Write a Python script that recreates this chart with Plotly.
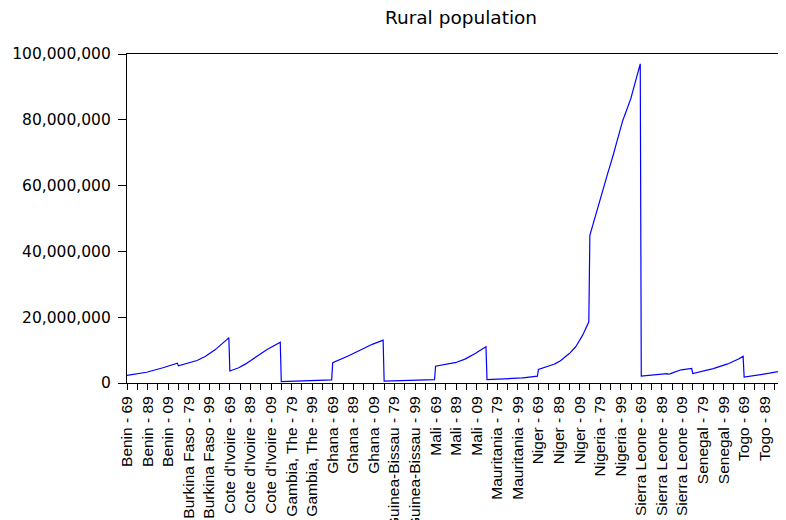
import plotly.graph_objects as go

# ---- data (millions of people), 1969-2018, one list per country in plot order ----
SCALE = 1_000_000

countries = ["Benin", "Burkina Faso", "Cote d'Ivoire", "Gambia, The", "Ghana",
             "Guinea-Bissau", "Mali", "Mauritania", "Niger", "Nigeria",
             "Sierra Leone", "Senegal", "Togo"]

benin = [2.30, 2.34, 2.38, 2.42, 2.46, 2.50, 2.54, 2.58, 2.62, 2.67,
         2.72, 2.77, 2.83, 2.89, 2.95, 3.01, 3.07, 3.13, 3.20, 3.27,
         3.34, 3.41, 3.49, 3.57, 3.65, 3.74, 3.83, 3.92, 4.01, 4.10,
         4.19, 4.28, 4.37, 4.46, 4.55, 4.65, 4.75, 4.85, 4.95, 5.05,
         5.15, 5.25, 5.35, 5.45, 5.55, 5.65, 5.74, 5.83, 5.92, 6.00]
burkina = [5.20, 5.28, 5.36, 5.44, 5.52, 5.60, 5.68, 5.76, 5.84, 5.93,
           6.02, 6.11, 6.20, 6.30, 6.40, 6.51, 6.62, 6.73, 6.85, 6.97,
           7.10, 7.24, 7.39, 7.55, 7.72, 7.90, 8.08, 8.27, 8.46, 8.66,
           8.86, 9.07, 9.29, 9.51, 9.74, 9.97, 10.21, 10.45, 10.70, 10.95,
           11.21, 11.47, 11.73, 12.00, 12.27, 12.54, 12.85, 13.17, 13.49, 13.80]
cote_divoire = [3.65, 3.74, 3.84, 3.95, 4.06, 4.18, 4.30, 4.43, 4.56, 4.70,
                4.84, 5.00, 5.17, 5.35, 5.54, 5.74, 5.95, 6.16, 6.38, 6.61,
                6.84, 7.07, 7.30, 7.53, 7.76, 7.99, 8.22, 8.45, 8.68, 8.91,
                9.13, 9.33, 9.52, 9.70, 9.87, 10.03, 10.19, 10.35, 10.51, 10.68,
                10.86, 11.05, 11.24, 11.43, 11.62, 11.81, 11.98, 12.14, 12.28, 12.40]
gambia = [0.40, 0.41, 0.42, 0.43, 0.44, 0.45, 0.46, 0.47, 0.48, 0.49,
          0.50, 0.51, 0.52, 0.53, 0.54, 0.55, 0.56, 0.57, 0.58, 0.59,
          0.61, 0.62, 0.63, 0.64, 0.65, 0.66, 0.67, 0.68, 0.69, 0.70,
          0.71, 0.72, 0.73, 0.74, 0.75, 0.76, 0.77, 0.78, 0.79, 0.80,
          0.81, 0.82, 0.83, 0.84, 0.85, 0.86, 0.88, 0.90, 0.92, 0.94]
ghana = [6.20, 6.32, 6.44, 6.56, 6.68, 6.80, 6.93, 7.06, 7.19, 7.32,
         7.46, 7.60, 7.75, 7.90, 8.06, 8.22, 8.38, 8.54, 8.70, 8.86,
         9.02, 9.18, 9.34, 9.50, 9.66, 9.82, 9.98, 10.14, 10.30, 10.46,
         10.62, 10.77, 10.92, 11.06, 11.20, 11.33, 11.46, 11.58, 11.70, 11.82,
         11.94, 12.06, 12.18, 12.30, 12.42, 12.54, 12.66, 12.78, 12.90, 13.02]
guinea_bissau = [0.55, 0.56, 0.57, 0.58, 0.59, 0.60, 0.61, 0.62, 0.63, 0.64,
                 0.65, 0.66, 0.67, 0.68, 0.69, 0.70, 0.71, 0.72, 0.73, 0.74,
                 0.75, 0.76, 0.77, 0.78, 0.79, 0.80, 0.81, 0.81, 0.82, 0.83,
                 0.84, 0.85, 0.86, 0.86, 0.87, 0.88, 0.89, 0.90, 0.90, 0.91,
                 0.92, 0.93, 0.94, 0.95, 0.96, 0.97, 0.98, 0.99, 1.00, 1.01]
mali = [5.10, 5.15, 5.20, 5.25, 5.30, 5.35, 5.40, 5.46, 5.52, 5.58,
        5.64, 5.70, 5.76, 5.82, 5.88, 5.94, 6.01, 6.08, 6.15, 6.22,
        6.29, 6.37, 6.46, 6.56, 6.67, 6.79, 6.92, 7.05, 7.19, 7.33,
        7.48, 7.64, 7.80, 7.97, 8.14, 8.32, 8.50, 8.69, 8.88, 9.07,
        9.27, 9.47, 9.67, 9.87, 10.07, 10.27, 10.46, 10.64, 10.82, 11.00]
mauritania = [1.00, 1.01, 1.02, 1.03, 1.04, 1.05, 1.06, 1.07, 1.08, 1.09,
              1.10, 1.11, 1.12, 1.13, 1.14, 1.15, 1.16, 1.17, 1.18, 1.19,
              1.21, 1.23, 1.25, 1.27, 1.29, 1.31, 1.33, 1.35, 1.37, 1.39,
              1.41, 1.44, 1.47, 1.50, 1.53, 1.56, 1.59, 1.62, 1.65, 1.68,
              1.71, 1.74, 1.77, 1.80, 1.84, 1.88, 1.92, 1.97, 2.02, 2.07]
niger = [4.10, 4.19, 4.28, 4.37, 4.46, 4.56, 4.66, 4.76, 4.86, 4.97,
         5.08, 5.19, 5.31, 5.43, 5.55, 5.68, 5.81, 5.95, 6.10, 6.30,
         6.50, 6.71, 6.93, 7.15, 7.38, 7.62, 7.87, 8.13, 8.39, 8.66,
         8.94, 9.23, 9.53, 9.84, 10.16, 10.50, 10.94, 11.40, 11.87, 12.37,
         12.88, 13.42, 13.98, 14.56, 15.17, 15.80, 16.46, 17.15, 17.86, 18.60]
nigeria = [44.9, 46.0, 47.1, 48.2, 49.4, 50.5, 51.7, 52.8, 54.0, 55.2,
           56.3, 57.5, 58.6, 59.6, 60.5, 61.5, 62.5, 63.4, 64.4, 65.4,
           66.3, 67.3, 68.5, 69.6, 70.8, 72.0, 73.2, 74.3, 75.5, 76.7,
           77.8, 79.0, 79.8, 80.6, 81.4, 82.3, 83.1, 83.9, 84.7, 85.5,
           86.6, 87.8, 88.9, 90.1, 91.2, 92.4, 93.5, 94.7, 95.8, 97.0]
sierra_leone = [2.10, 2.13, 2.16, 2.19, 2.22, 2.25, 2.28, 2.31, 2.34, 2.37,
                2.40, 2.43, 2.46, 2.49, 2.52, 2.55, 2.58, 2.62, 2.66, 2.70,
                2.74, 2.78, 2.82, 2.86, 2.90, 2.82, 2.73, 2.65, 2.78, 2.92,
                3.06, 3.20, 3.34, 3.47, 3.59, 3.70, 3.80, 3.90, 3.95, 4.00,
                4.04, 4.08, 4.12, 4.16, 4.20, 4.24, 4.28, 4.32, 4.36, 4.40]
senegal = [2.90, 2.96, 3.02, 3.08, 3.14, 3.20, 3.27, 3.34, 3.41, 3.48,
           3.55, 3.62, 3.70, 3.78, 3.86, 3.94, 4.02, 4.10, 4.19, 4.28,
           4.37, 4.46, 4.55, 4.64, 4.74, 4.84, 4.94, 5.04, 5.14, 5.25,
           5.36, 5.47, 5.58, 5.70, 5.82, 5.94, 6.06, 6.19, 6.32, 6.45,
           6.58, 6.72, 6.86, 7.04, 7.22, 7.40, 7.58, 7.76, 7.94, 8.12]
togo = [1.80, 1.84, 1.88, 1.92, 1.96, 2.00, 2.04, 2.08, 2.12, 2.16,
        2.20, 2.25, 2.30, 2.35, 2.40, 2.45, 2.50, 2.55, 2.60, 2.65,
        2.70, 2.76, 2.82, 2.88, 2.94, 3.00, 3.06, 3.12, 3.18, 3.24,
        3.30, 3.36, 3.42, 3.48, 3.54, 3.60, 3.66, 3.72, 3.78, 3.84,
        3.90, 3.96, 4.02, 4.08, 4.14, 4.20, 4.26, 4.32, 4.38, 4.44]

series = [benin, burkina, cote_divoire, gambia, ghana, guinea_bissau, mali,
          mauritania, niger, nigeria, sierra_leone, senegal, togo]

tick_labels = [
    "Benin - 69", "Benin - 89", "Benin - 09",
    "Burkina Faso - 79", "Burkina Faso - 99",
    "Cote d'Ivoire - 69", "Cote d'Ivoire - 89", "Cote d'Ivoire - 09",
    "Gambia, The - 79", "Gambia, The - 99",
    "Ghana - 69", "Ghana - 89", "Ghana - 09",
    "Guinea-Bissau - 79", "Guinea-Bissau - 99",
    "Mali - 69", "Mali - 89", "Mali - 09",
    "Mauritania - 79", "Mauritania - 99",
    "Niger - 69", "Niger - 89", "Niger - 09",
    "Nigeria - 79", "Nigeria - 99",
    "Sierra Leone - 69", "Sierra Leone - 89", "Sierra Leone - 09",
    "Senegal - 79", "Senegal - 99",
    "Togo - 69", "Togo - 89", "Togo - 09",
]

y_ticks = [0, 20_000_000, 40_000_000, 60_000_000, 80_000_000, 100_000_000]

# ---- build the stacked panel series ----
values = []
for s in series:
    assert len(s) == 50
    values.extend(v * SCALE for v in s)
x = list(range(len(values)))
label_pos = list(range(0, len(values), 20))[:len(tick_labels)]
minor_pos = list(range(0, len(values), 10))

# the page body has an 8px margin: the figure is sized so it ends at the window edge
OFF = 8
W, H = 786 - OFF, 520 - OFF

fig = go.Figure()
fig.add_trace(go.Scatter(x=x, y=values, mode="lines",
                         line=dict(color="#0000FF", width=1.2),
                         hoverinfo="skip", showlegend=False))

fig.update_layout(
    width=W, height=H,
    margin=dict(l=127 - OFF, r=0, t=54 - OFF, b=137, autoexpand=False),
    paper_bgcolor="white", plot_bgcolor="white",
    title=dict(text="Rural population", x=(461 - OFF) / W, xref="container", xanchor="center",
               y=1 - (18 - OFF) / H, yref="container", yanchor="middle",
               font=dict(family="DejaVu Sans", size=18.5, color="black")),
    showlegend=False,
)
fig.update_xaxes(
    range=[0, 640.7], showgrid=False, zeroline=False,
    showline=True, linecolor="black", linewidth=1.2, mirror=True,
    tickmode="array", tickvals=label_pos, ticktext=tick_labels,
    ticks="outside", ticklen=6, tickwidth=1, tickcolor="black",
    tickangle=-90, automargin=False, ticklabeloverflow="allow",
    tickfont=dict(family="Liberation Sans, Arial", size=15.5, color="black"),
    minor=dict(tickmode="array", tickvals=minor_pos, ticks="outside",
               ticklen=6, tickwidth=1, tickcolor="black", showgrid=False),
)
fig.update_yaxes(
    range=[0, 100_000_000], showgrid=False, zeroline=False,
    showline=True, linecolor="black", linewidth=1.2, mirror=False,
    tickmode="array", tickvals=y_ticks, tickformat=",d",
    ticks="outside", ticklen=8, tickwidth=1, tickcolor="black",
    ticklabelstandoff=4, automargin=False,
    tickfont=dict(family="DejaVu Sans", size=15.5, color="black"),
)

fig.write_html("out.html")
